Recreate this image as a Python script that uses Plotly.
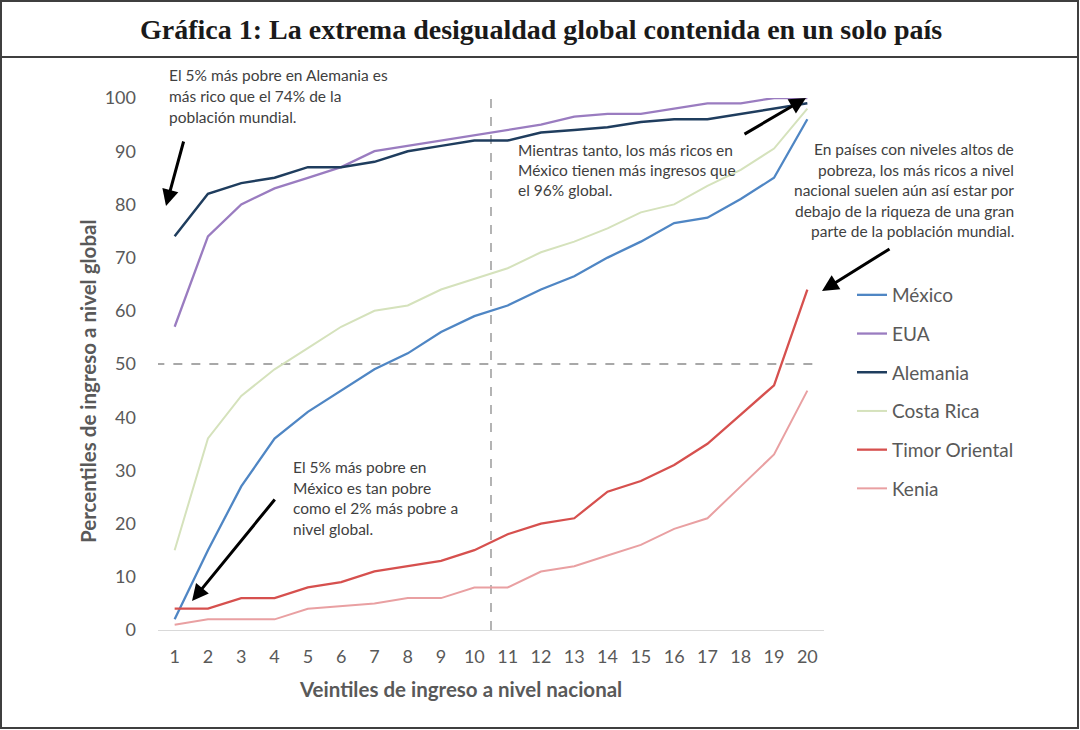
import plotly.graph_objects as go

# ---------------- data ----------------
veintiles = list(range(1, 21))
mexico = [2, 15, 27, 36, 41, 45, 49, 52, 56, 59, 61, 64, 66.5, 70, 73, 76.5, 77.5, 81, 85, 96]
eua = [57, 74, 80, 83, 85, 87, 90, 91, 92, 93, 94, 95, 96.5, 97, 97, 98, 99, 99, 100, 100]
alemania = [74, 82, 84, 85, 87, 87, 88, 90, 91, 92, 92, 93.5, 94, 94.5, 95.5, 96, 96, 97, 98, 99]
costa_rica = [15, 36, 44, 49, 53, 57, 60, 61, 64, 66, 68, 71, 73, 75.5, 78.5, 80, 83.5, 86.5, 90.5, 98]
timor = [4, 4, 6, 6, 8, 9, 11, 12, 13, 15, 18, 20, 21, 26, 28, 31, 35, 40.5, 46, 64]
kenia = [1, 2, 2, 2, 4, 4.5, 5, 6, 6, 8, 8, 11, 12, 14, 16, 19, 21, 27, 33, 45]

series_names = ["México", "EUA", "Alemania", "Costa Rica", "Timor Oriental", "Kenia"]
series_values = [mexico, eua, alemania, costa_rica, timor, kenia]
series_colors = ["#4F86C4", "#9A7CC0", "#1F3D5E", "#D5E2BC", "#D6504E", "#E9A0A2"]
series_widths = [2.3, 2.3, 2.5, 2.0, 2.3, 2.0]

y_ticks = list(range(0, 101, 10))
umbral = 50
mitad = 10.5

titulo = "Gráfica 1: La extrema desigualdad global contenida en un solo país"
x_title = "Veintiles de ingreso a nivel nacional"
y_title = "Percentiles de ingreso a nivel global"

# ---------------- layout geometry ----------------
W, H = 1080, 730
L, R, T, B = 158, 824, 98, 630


def px(x):
    return (x - L) / (R - L)


def py(y):
    return (B - y) / (B - T)


fig = go.Figure()
for name, vals, col, w in zip(series_names, series_values, series_colors, series_widths):
    fig.add_trace(go.Scatter(x=veintiles, y=vals, mode="lines", name=name,
                             legendgroup=name,
                             line=dict(color=col, width=w)))

shapes = [
    # reference dashed lines
    dict(type="line", xref="x", yref="y", x0=0.42, x1=20.4, y0=umbral, y1=umbral,
         line=dict(color="#8C8C8C", width=1.3, dash="dash"), layer="below"),
    dict(type="line", xref="x", yref="y", x0=mitad, x1=mitad, y0=0, y1=101,
         line=dict(color="#8C8C8C", width=1.3, dash="dash"), layer="below"),
    # outer frame
    dict(type="rect", xref="paper", yref="paper", x0=px(1), x1=px(1078), y0=py(1), y1=py(728),
         line=dict(color="#3F3F3F", width=2)),
    dict(type="line", xref="paper", yref="paper", x0=px(1), x1=px(1078), y0=py(57), y1=py(57),
         line=dict(color="#3F3F3F", width=2)),
]

ann = []
# title
ann.append(dict(xref="paper", yref="paper", x=px(541), y=py(29), text="<b>" + titulo + "</b>",
                showarrow=False, xanchor="center", yanchor="middle",
                font=dict(family="Liberation Serif", size=28, color="#1A1A1A")))
# axis titles
ann.append(dict(xref="paper", yref="paper", x=px(460), y=py(689), text="<b>" + x_title + "</b>",
                showarrow=False, xanchor="center", yanchor="middle",
                font=dict(family="Lato", size=20.5, color="#595959")))
ann.append(dict(xref="paper", yref="paper", x=px(88), y=py(381), text="<b>" + y_title + "</b>",
                showarrow=False, xanchor="center", yanchor="middle", textangle=-90,
                font=dict(family="Lato", size=20.5, color="#595959")))

note_font = dict(family="Lato", size=15.5, color="#404040")


def text_block(lines, x, y0, step, anchor="left"):
    for i, t in enumerate(lines):
        ann.append(dict(xref="paper", yref="paper", x=px(x), y=py(y0 + i * step), text=t,
                        showarrow=False, xanchor=anchor, yanchor="middle", font=note_font))


text_block(["El 5% más pobre en Alemania es", "más rico que el 74% de la", "población mundial."],
           167, 75, 21)
text_block(["Mientras tanto, los más ricos en", "México tienen más ingresos que", "el 96% global."],
           516, 150, 20)
text_block(["En países con niveles altos de", "pobreza, los más ricos a nivel",
            "nacional suelen aún así estar por", "debajo de la riqueza de una gran",
            "parte de la población mundial."], 1016, 149, 20.5, anchor="right")
text_block(["El 5% más pobre en", "México es tan pobre", "como el 2% más pobre a", "nivel global."],
           291, 467, 20.7)


def arrow(tail, tip):
    ann.append(dict(xref="paper", yref="paper", x=px(tip[0]), y=py(tip[1]), text="",
                    showarrow=True, ax=tail[0] - tip[0], ay=tail[1] - tip[1],
                    arrowhead=2, arrowsize=1.1, arrowwidth=3, arrowcolor="#000000",
                    standoff=0, startstandoff=0))


arrow((184, 140), (166, 206))
arrow((743, 135), (806, 98))
arrow((891, 248), (822, 291))
arrow((276, 498), (192, 601))

fig.update_layout(
    width=W, height=H,
    margin=dict(l=L, r=W - R, t=T, b=H - B, autoexpand=False),
    paper_bgcolor="white", plot_bgcolor="white",
    shapes=shapes, annotations=ann,
    showlegend=True,
    legend=dict(x=px(852), y=py(276), xanchor="left", yanchor="top",
                font=dict(family="Lato", size=19, color="#595959"),
                itemwidth=30, traceorder="grouped", tracegroupgap=11,
                bgcolor="rgba(0,0,0,0)"),
    xaxis=dict(range=[0.5, 20.5], tickmode="array", tickvals=veintiles,
               ticktext=[str(v) for v in veintiles], showgrid=False, zeroline=False,
               showline=True, linecolor="#D9D9D9", linewidth=1.3, ticks="",
               tickfont=dict(family="Lato", size=18, color="#595959"),
               ticklabelstandoff=10),
    yaxis=dict(range=[0, 100], tickmode="array", tickvals=y_ticks,
               ticktext=[str(v) for v in y_ticks], showgrid=False, zeroline=False,
               showline=False, ticks="",
               tickfont=dict(family="Lato", size=18, color="#595959"),
               ticklabelstandoff=21),
)

fig.write_html("out.html")
